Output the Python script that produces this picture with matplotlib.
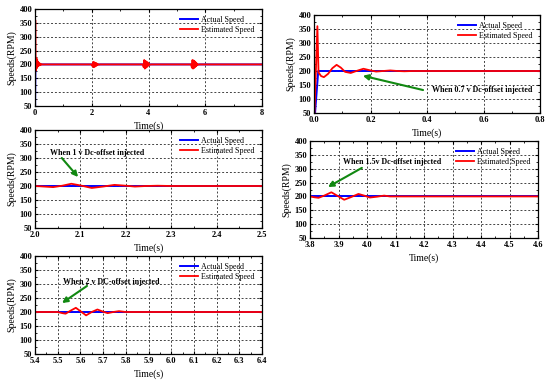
import matplotlib.pyplot as plt
import matplotlib.ticker as mticker

plt.rcParams['font.family'] = ['Liberation Serif', 'DejaVu Serif']

# panel 1: whole run 0-8 s
t1 = [0.0, 0.01, 0.02, 0.03, 0.045, 0.06, 0.075, 0.09, 0.105, 0.12, 0.14, 0.16,
      0.18, 0.2, 0.22, 0.25, 0.3,
      2.0, 2.03, 2.05, 2.07, 2.09, 2.11, 2.13, 2.15, 2.17, 2.19, 2.21, 2.24, 2.3,
      3.8, 3.83, 3.85, 3.87, 3.89, 3.91, 3.93, 3.95, 3.97, 3.99, 4.01, 4.04, 4.1,
      5.5, 5.53, 5.55, 5.57, 5.59, 5.61, 5.63, 5.65, 5.67, 5.69, 5.71, 5.74, 5.8,
      8.0]
est1 = [0, 360, 195, 178, 224, 186, 218, 192, 210, 194, 206, 197,
        203, 198, 201, 200, 200,
        200, 193, 209, 190, 208, 192, 206, 194, 204, 197, 202, 199, 200,
        200, 190, 216, 185, 213, 188, 210, 191, 207, 195, 203, 199, 200,
        200, 188, 216, 185, 214, 187, 211, 191, 207, 195, 203, 199, 200,
        200]
t1_act = [0.0, 0.015, 8.0]
act1 = [0, 200, 200]

# panel 2: 0.7 v offset, start-up
t2 = [0.0, 0.012, 0.016, 0.025, 0.035, 0.05, 0.065, 0.08, 0.095, 0.11, 0.13,
      0.15, 0.175, 0.2, 0.22, 0.245, 0.27, 0.295, 0.32, 0.35, 0.8]
est2 = [0, 360, 195, 182, 178, 190, 210, 222, 212, 197, 193,
        200, 208, 202, 198, 200, 202, 200, 199, 200, 200]
t2_act = [0.0, 0.015, 0.8]
act2 = [0, 200, 200]

# panel 3: 1 v offset
t3 = [2.0, 2.02, 2.04, 2.06, 2.08, 2.1, 2.125, 2.15, 2.175, 2.2, 2.22, 2.245,
      2.27, 2.3, 2.5]
est3 = [200, 198, 196, 201, 208, 202, 193, 198, 204, 201, 198, 200,
        201, 200, 200]
t3_act = [2.0, 2.5]
act3 = [200, 200]

# panel 4: 1.5 v offset
t4 = [3.8, 3.815, 3.83, 3.85, 3.875, 3.9, 3.92, 3.945, 3.97, 3.99, 4.01,
      4.035, 4.06, 4.08, 4.1, 4.6]
est4 = [200, 197, 195, 203, 215, 200, 188, 198, 209, 203, 196,
        199, 203, 200, 200, 200]
t4_act = [3.8, 4.6]
act4 = [200, 200]

# panel 5: 2 v offset
t5 = [5.4, 5.5, 5.52, 5.535, 5.555, 5.58, 5.6, 5.625, 5.65, 5.675, 5.7,
      5.72, 5.745, 5.77, 5.8, 6.4]
est5 = [200, 200, 196, 194, 204, 215, 203, 188, 200, 209, 201,
        196, 200, 203, 200, 200]
t5_act = [5.4, 6.4]
act5 = [200, 200]

xlims = [(0, 8), (0, 0.8), (2.0, 2.5), (3.8, 4.6), (5.4, 6.4)]
xsteps = [2, 0.2, 0.1, 0.1, 0.1]
# text, text position, arrow tail, arrow head
notes = [None,
         ("When 0.7 v Dc-offset injected", (0.418, 133), (0.386, 132), (0.173, 183)),
         ("When 1 v Dc-offset injected", (2.033, 318), (2.059, 300), (2.095, 232)),
         ("When 1.5v Dc-offset injected", (3.915, 324), (3.982, 303), (3.863, 234)),
         ("When 2 v DC-offset injected", (5.523, 307), (5.629, 293), (5.519, 232))]

# axes rectangles in pixels: left, top, right, bottom
W, H = 550, 381
boxes = [(35, 9, 262, 106), (314, 15, 540, 113), (35, 130, 262, 228),
         (310, 141, 538, 238), (35, 256, 262, 354)]

series = [(t1_act, act1, t1, est1), (t2_act, act2, t2, est2),
          (t3_act, act3, t3, est3), (t4_act, act4, t4, est4),
          (t5_act, act5, t5, est5)]

fig = plt.figure(figsize=(5.5, 3.81), dpi=100)
for i, (l, tp, r, b) in enumerate(boxes):
    ax = fig.add_axes([l / W, 1 - b / H, (r - l) / W, (b - tp) / H])
    ta, a, te, e = series[i]
    ax.plot(ta, a, color='#0000ff', lw=1.4, label='Actual Speed')
    ax.plot(te, e, color='#ff0000', lw=1.3, label='Estimated Speed')
    ax.set_xlim(*xlims[i])
    ax.set_ylim(50, 400)
    ax.xaxis.set_major_locator(mticker.MultipleLocator(xsteps[i]))
    ax.xaxis.set_major_formatter(mticker.FormatStrFormatter('%.1f' if i else '%d'))
    ax.yaxis.set_major_locator(mticker.MultipleLocator(50))
    ax.xaxis.set_minor_locator(mticker.AutoMinorLocator(2))
    ax.yaxis.set_minor_locator(mticker.AutoMinorLocator(2))
    ax.grid(True, which='major', ls=(0, (2, 2)), color='#444444', lw=0.7)
    ax.tick_params(which='both', direction='in', top=True, right=True,
                   labelsize=6, pad=2, length=2)
    ax.tick_params(which='minor', length=1.2)
    for lab in ax.get_xticklabels() + ax.get_yticklabels():
        lab.set_fontweight('bold')
    for s in ax.spines.values():
        s.set_linewidth(0.9)
    ax.set_xlabel('Time(s)', fontsize=7, labelpad=3)
    ax.set_ylabel('Speeds(RPM)', fontsize=7, labelpad=2)
    ax.legend(loc='upper right', fontsize=5.8, frameon=False,
              handlelength=2.2, handletextpad=0.4, borderaxespad=0.5,
              labelspacing=0.25)
    if notes[i]:
        txt, pos, tail, head = notes[i]
        ax.text(pos[0], pos[1], txt, fontsize=5.8, fontweight='bold',
                va='center', ha='left')
        ax.annotate('', xy=head, xytext=tail,
                    arrowprops=dict(arrowstyle='-|>', color='#118811', lw=1.5,
                                    mutation_scale=8, shrinkA=0, shrinkB=0))

fig.savefig('out.png', dpi=100)
